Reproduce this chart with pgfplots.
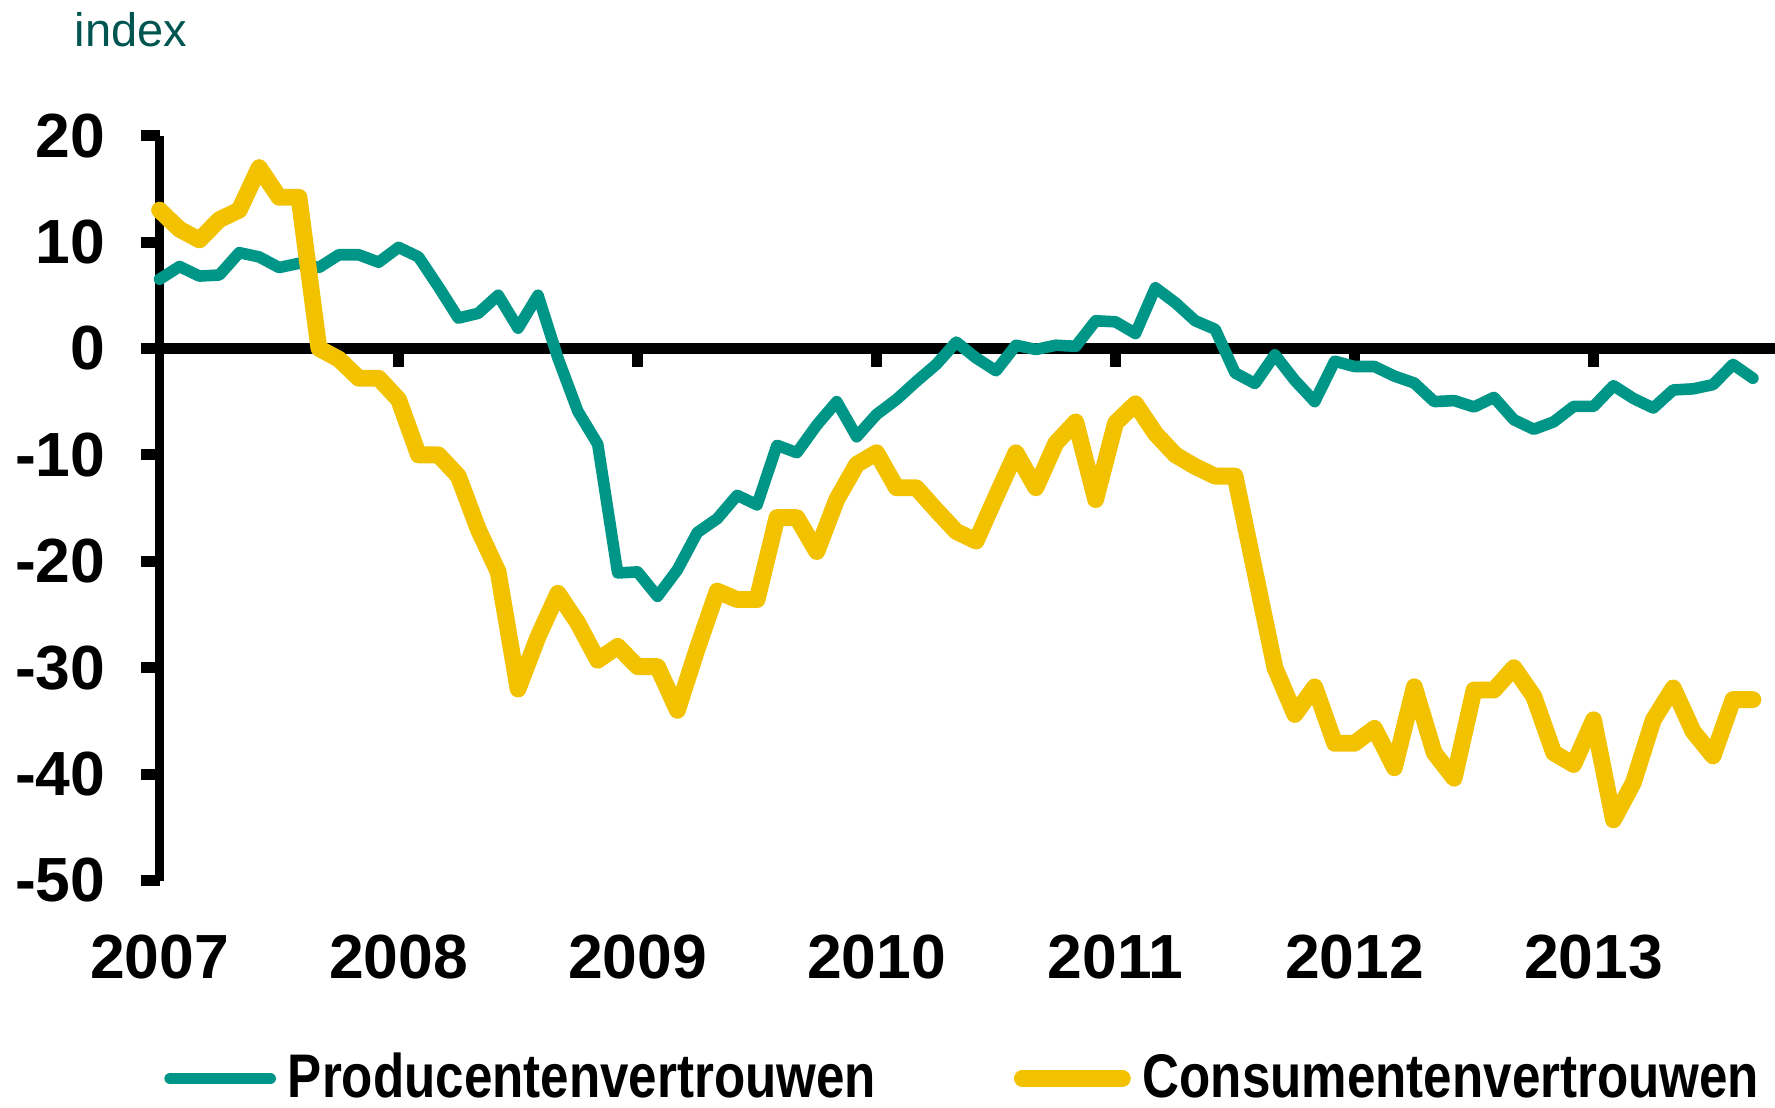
\documentclass[border=0pt]{standalone}
\usepackage{fontspec}
\setmainfont{Liberation Sans}
\newfontfamily\legendfont{Liberation Sans}[FakeStretch=0.83]
\usepackage{pgfplots}
\pgfplotsset{compat=1.18}
\definecolor{teal1}{RGB}{0,150,135}
\definecolor{gold1}{RGB}{242,194,0}
\definecolor{indexcol}{RGB}{0,85,80}
\begin{document}
\begin{tikzpicture}
\begin{axis}[
  scale only axis, width=403.35pt, height=186.25pt,
  xmin=0, xmax=81, ymin=-50, ymax=20,
  axis y line*=left, axis x line*=bottom,
  x axis line style={draw=none},
  y axis line style={line width=2.3pt, black},
  ytick={-50,-40,-30,-20,-10,0,10,20},
  yticklabels={-50,-40,-30,-20,-10,0,10,20},
  xtick={0,12,24,36,48,60,72},
  xticklabels={2007,2008,2009,2010,2011,2012,2013},
  tick align=outside, major tick length=4.7pt,
  ytick style={line width=2.75pt, black},
  xtick style={draw=none},
  ticklabel style={font=\bfseries\fontsize{15.6}{18}\selectfont, inner sep=0pt},
  yticklabel style={anchor=east, xshift=-8.7pt},
  xticklabel style={anchor=base, yshift=-19.9pt},
  clip=false,
  legend image code/.code={\draw[#1] (0pt,0pt) -- (25pt,0pt);},
  legend style={at={(0,0)}, anchor=west, xshift=1.2pt, yshift=-49.5pt,
    draw=none, fill=none, inner sep=0pt, outer sep=0pt,
    legend columns=2,
    font=\legendfont\bfseries\fontsize{15.4}{18}\selectfont,
    nodes={inner sep=0pt},
    /tikz/every odd column/.append style={column sep=3pt},
    /tikz/every even column/.append style={column sep=34.5pt}},
]
\coordinate (tl) at (rel axis cs:0,1);
\draw[line width=2.75pt, black] (axis cs:0,0) -- ([xshift=3pt]axis cs:81,0);
\pgfplotsinvokeforeach{12,24,36,48,60,72}{
  \draw[line width=2.7pt, black] (axis cs:#1,0) -- ([yshift=-4.6pt]axis cs:#1,0);
}
\addplot[teal1, line width=2.9pt, line cap=round, line join=round] coordinates {
(0,6.5)(1,7.7)(2,6.8)(3,6.9)(4,9.0)(5,8.6)(6,7.6)(7,8.0)(8,7.6)(9,8.8)(10,8.8)(11,8.1)
(12,9.5)(13,8.6)(14,5.8)(15,2.85)(16,3.3)(17,5.0)(18,1.9)(19,5.0)(20,-0.9)(21,-5.9)(22,-9.0)(23,-21.1)
(24,-21.0)(25,-23.3)(26,-20.8)(27,-17.3)(28,-16.0)(29,-13.8)(30,-14.7)(31,-9.1)(32,-9.8)(33,-7.2)(34,-5.0)(35,-8.3)
(36,-6.2)(37,-4.8)(38,-3.1)(39,-1.5)(40,0.6)(41,-0.9)(42,-2.1)(43,0.3)(44,-0.1)(45,0.3)(46,0.2)(47,2.6)
(48,2.5)(49,1.4)(50,5.7)(51,4.3)(52,2.6)(53,1.8)(54,-2.3)(55,-3.3)(56,-0.6)(57,-3.0)(58,-5.0)(59,-1.2)
(60,-1.7)(61,-1.7)(62,-2.6)(63,-3.25)(64,-5.0)(65,-4.9)(66,-5.5)(67,-4.6)(68,-6.7)(69,-7.6)(70,-6.9)(71,-5.45)
(72,-5.45)(73,-3.5)(74,-4.7)(75,-5.6)(76,-3.9)(77,-3.8)(78,-3.4)(79,-1.5)(80,-2.8)
};
\addlegendentry{Producentenvertrouwen}
\addplot[gold1, line width=4.2pt, line cap=round, line join=round] coordinates {
(0,13.0)(1,11.2)(2,10.2)(3,12.1)(4,13.0)(5,17.0)(6,14.2)(7,14.2)(8,0.0)(9,-1.0)(10,-2.8)(11,-2.8)
(12,-4.8)(13,-10.0)(14,-10.0)(15,-12.0)(16,-17.0)(17,-21.0)(18,-32.0)(19,-27.1)(20,-23.0)(21,-25.8)(22,-29.3)(23,-28.0)
(24,-29.9)(25,-29.9)(26,-34.0)(27,-28.2)(28,-22.8)(29,-23.6)(30,-23.6)(31,-15.9)(32,-15.9)(33,-19.1)(34,-14.2)(35,-10.9)
(36,-9.8)(37,-13.1)(38,-13.1)(39,-15.2)(40,-17.2)(41,-18.1)(42,-13.9)(43,-9.8)(44,-13.1)(45,-8.9)(46,-6.9)(47,-14.2)
(48,-7.0)(49,-5.2)(50,-8.0)(51,-10.0)(52,-11.1)(53,-12.0)(54,-12.0)(55,-21.0)(56,-30.0)(57,-34.4)(58,-31.8)(59,-37.1)
(60,-37.1)(61,-35.7)(62,-39.4)(63,-31.8)(64,-38.0)(65,-40.4)(66,-32.1)(67,-32.1)(68,-30.0)(69,-32.7)(70,-38.0)(71,-39.1)
(72,-34.9)(73,-44.3)(74,-40.8)(75,-34.9)(76,-31.9)(77,-36.0)(78,-38.3)(79,-33.0)(80,-33.0)
};
\addlegendentry{Consumentenvertrouwen}
\end{axis}
\node[anchor=base west, inner sep=0pt, text=indexcol, font=\fontsize{11.75}{14}\selectfont] at ([shift={(-21.4pt,22.25pt)}]tl) {index};
\pgfresetboundingbox
\path ([shift={(-39.9pt,33.9pt)}]tl) rectangle ([shift={(403.9pt,-243.1pt)}]tl);
\end{tikzpicture}
\end{document}
